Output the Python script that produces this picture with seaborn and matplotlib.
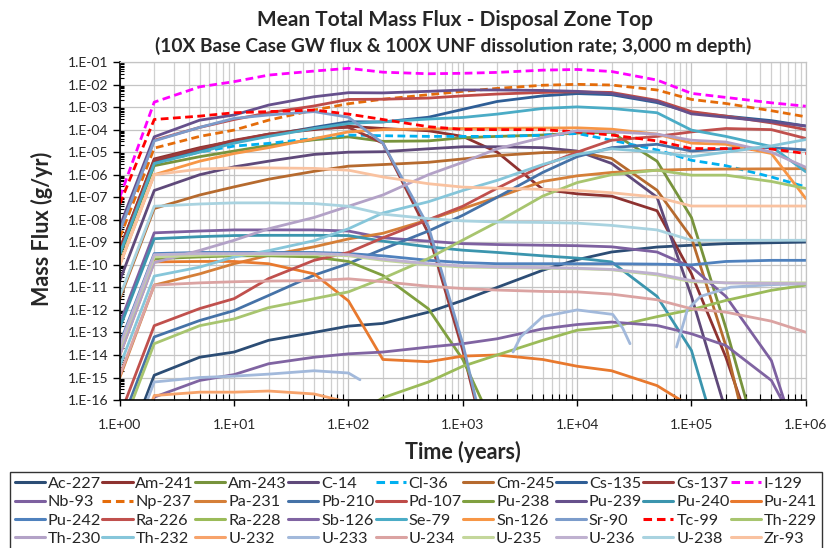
import numpy as np
import pandas as pd
import matplotlib
matplotlib.use("Agg")
import matplotlib.pyplot as plt
import seaborn as sns
from matplotlib.ticker import LogLocator, FixedLocator, FuncFormatter, NullFormatter

# time grid (years)
time = [1, 2, 5, 10, 20, 50, 1e2, 2e2, 5e2, 1e3, 2e3, 5e3, 1e4, 2e4, 5e4, 1e5, 2e5, 5e5, 1e6]

# log10 of mean mass flux (g/yr), None = no value
ac227 = [-18.9, -14.9, -14.1, -13.87, -13.35, -13.0, -12.72, -12.6, -12.1, -11.58, -11.0, -10.24, -9.77, -9.43, -9.21, -9.13, -9.06, -9.02, -8.99]
am241 = [-9.3, -5.3, -4.8, -4.5, -4.2, -4.0, -3.85, -3.95, -4.05, -4.3, -5.0, -6.65, -6.85, -6.95, -7.6, -10.4, -14.1, -20.0, None]
am243 = [-9.6, -5.6, -5.2, -4.95, -4.7, -4.45, -4.32, -4.52, -4.5, -4.36, -4.3, -4.24, -4.15, -4.12, -5.4, -7.9, -12.8, -20.0, None]
c14 = [-10.7, -6.7, -6.0, -5.65, -5.4, -5.1, -5.0, -4.98, -4.85, -4.76, -4.76, -4.8, -4.95, -5.5, -7.0, -11.4, -16.5, None, None]
cl36 = [-9.5, -5.5, -4.99, -4.73, -4.61, -4.39, -4.24, -4.27, -4.3, -4.3, -4.3, -4.25, -4.17, -4.47, -4.9, -5.36, -5.6, -6.1, -6.54]
cm245 = [-11.5, -7.5, -6.9, -6.54, -6.2, -5.85, -5.62, -5.55, -5.45, -5.3, -5.15, -5.02, -4.98, -5.28, -6.69, -8.8, -13.6, -22.0, None]
cs135 = [-9.5, -5.45, -4.9, -4.55, -4.25, -3.9, -3.65, -3.66, -3.45, -3.1, -2.75, -2.5, -2.4, -2.45, -2.8, -3.25, -3.4, -3.6, -3.84]
cs137 = [-9.3, -5.36, -4.85, -4.47, -4.2, -3.95, -3.9, -4.6, -8.6, -13.8, -20.0, None, None, None, None, None, None, None, None]
i129 = [-7.0, -2.78, -2.1, -1.87, -1.58, -1.4, -1.28, -1.45, -1.52, -1.5, -1.46, -1.36, -1.33, -1.42, -1.8, -2.39, -2.57, -2.81, -2.96]
nb93 = [-12.6, -8.58, -8.5, -8.45, -8.45, -8.45, -8.5, -8.8, -8.95, -9.06, -9.1, -9.13, -9.15, -9.2, -9.43, -10.1, -11.4, -14.25, -19.0]
np237 = [-8.8, -4.82, -4.3, -4.02, -3.58, -3.13, -2.85, -2.65, -2.45, -2.3, -2.17, -2.03, -1.99, -2.02, -2.24, -2.66, -2.84, -3.16, -3.43]
pa231 = [-15.0, -10.9, -10.4, -9.95, -9.58, -9.2, -8.85, -8.6, -8.0, -7.5, -7.0, -6.3, -6.05, -5.9, -5.8, -5.76, -5.75, -5.74, -5.73]
pb210 = [-17.2, -13.2, -12.47, -12.03, -11.36, -10.46, -9.94, -9.3, -8.5, -7.8, -7.0, -5.9, -5.2, -4.8, -4.65, -4.95, -4.85, -4.8, -4.9]
pd107 = [-8.5, -4.47, -3.9, -3.55, -3.25, -2.95, -2.66, -2.65, -2.6, -2.5, -2.42, -2.35, -2.32, -2.35, -2.7, -3.2, -3.4, -3.7, -4.0]
pu238 = [-13.7, -9.73, -9.65, -9.6, -9.6, -9.65, -9.85, -10.47, -11.95, -14.2, -17.5, None, None, None, None, None, None, None, None]
pu239 = [-8.3, -4.32, -3.58, -3.35, -2.91, -2.54, -2.36, -2.37, -2.3, -2.24, -2.24, -2.26, -2.3, -2.4, -2.75, -3.3, -3.45, -3.65, -3.84]
pu240 = [-12.8, -8.84, -8.75, -8.7, -8.69, -8.69, -8.7, -8.95, -9.2, -9.35, -9.45, -9.6, -9.7, -9.87, -11.4, -13.8, -19.0, None, None]
pu241 = [-14.0, -9.87, -9.85, -9.85, -9.95, -10.4, -11.6, -14.2, -14.3, -14.05, -14.0, -14.2, -14.5, -14.7, -15.36, -16.3, None, None, None]
pu242 = [-13.5, -9.5, -9.45, -9.45, -9.45, -9.45, -9.5, -9.6, -9.8, -9.9, -9.95, -9.95, -9.95, -9.95, -9.97, -10.0, -9.85, -9.8, -9.8]
ra226 = [-16.7, -12.7, -11.94, -11.5, -10.61, -9.8, -9.45, -8.8, -8.0, -7.4, -6.6, -5.6, -5.0, -4.47, -4.3, -4.1, -3.95, -4.0, -4.39]
ra228 = [None, None, None, None, None, None, -16.8, -15.9, -15.2, -14.5, -14.0, -13.35, -12.9, -12.76, -12.3, -11.99, -11.58, -11.13, -10.9]
sb126 = [-20.0, -15.87, -15.13, -14.87, -14.39, -14.1, -13.95, -13.87, -13.65, -13.5, -13.28, -12.84, -12.65, -12.54, -12.69, -13.06, -13.58, -15.13, -18.0]
se79 = [-9.5, -5.5, -5.0, -4.6, -4.3, -3.95, -3.73, -3.65, -3.53, -3.46, -3.31, -3.06, -2.99, -3.06, -3.25, -4.02, -4.3, -4.75, -5.87]
sn126 = [-10.0, -6.0, -5.4, -5.06, -4.8, -4.4, -4.1, -4.0, -3.97, -3.95, -3.94, -3.93, -3.92, -3.98, -4.2, -4.6, -4.65, -5.06, -7.06]
sr90 = [-8.5, -4.5, -3.9, -3.5, -3.35, -3.2, -3.45, -4.6, -8.3, -13.5, -20.0, None, None, None, None, None, None, None, None]
tc99 = [-7.3, -3.55, -3.4, -3.25, -3.2, -3.13, -3.31, -3.55, -3.87, -3.99, -4.0, -4.0, -4.1, -4.24, -4.5, -4.84, -4.84, -4.86, -5.06]
th229 = [-17.5, -13.5, -12.7, -12.4, -11.9, -11.5, -11.2, -10.6, -9.72, -8.9, -8.1, -6.95, -6.35, -6.0, -5.8, -6.02, -6.02, -6.3, -6.61]
th230 = [-14.0, -9.9, -9.36, -8.91, -8.4, -7.9, -7.4, -6.9, -6.0, -5.45, -4.85, -4.35, -4.05, -4.1, -4.2, -4.47, -4.55, -5.0, -5.67]
th232 = [-14.5, -10.5, -10.1, -9.65, -9.37, -8.93, -8.4, -7.7, -7.2, -6.7, -6.25, -5.55, -5.1, -4.85, -5.0, -5.2, -5.0, -4.72, -4.44]
u232 = [-20.0, -15.8, -15.65, -15.65, -15.6, -15.73, -16.1, -17.0, None, None, None, None, None, None, None, None, None, None, None]
# U-233 has gaps in the source, so it keeps its own times
u233_time = [1, 2, 5, 10, 20, 50, 100, 126, None, 2750, 3200, 5000, 1e4, 2.05e4, 2.5e4, 2.9e4, None, 7.4e4, 9.2e4, 1.2e5, 2.2e5, 5e5, 1e6]
u233 = [-19.2, -15.2, -15.0, -14.94, -14.85, -14.7, -14.8, -15.1, None, -13.87, -13.2, -12.3, -12.0, -12.2, -12.8, -13.5, None, -13.65, -12.0, -11.4, -10.99, -10.88, -10.84]
u234 = [-14.9, -10.9, -10.8, -10.75, -10.72, -10.7, -10.62, -10.75, -10.95, -11.05, -11.12, -11.18, -11.2, -11.3, -11.55, -11.95, -12.1, -12.5, -12.99]
u235 = [-13.7, -9.65, -9.58, -9.55, -9.55, -9.55, -9.6, -9.8, -10.0, -10.1, -10.12, -10.15, -10.17, -10.22, -10.45, -10.75, -10.8, -10.8, -10.8]
u236 = [-13.6, -9.55, -9.5, -9.5, -9.5, -9.5, -9.55, -9.75, -9.95, -10.05, -10.1, -10.12, -10.15, -10.2, -10.4, -10.7, -10.8, -10.82, -10.84]
u238 = [-11.4, -7.4, -7.3, -7.25, -7.25, -7.28, -7.4, -7.75, -7.95, -8.05, -8.1, -8.12, -8.15, -8.25, -8.45, -8.91, -8.91, -8.91, -8.91]
zr93 = [-10.0, -6.0, -5.75, -5.7, -5.7, -5.72, -5.8, -6.1, -6.4, -6.55, -6.6, -6.65, -6.7, -6.8, -7.0, -7.39, -7.39, -7.39, -7.39]

# axis decades
x_decades = [0, 1, 2, 3, 4, 5, 6]
y_decades = list(range(-16, 0))

series = {
    "Ac-227": (time, ac227), "Am-241": (time, am241), "Am-243": (time, am243),
    "C-14": (time, c14), "Cl-36": (time, cl36), "Cm-245": (time, cm245),
    "Cs-135": (time, cs135), "Cs-137": (time, cs137), "I-129": (time, i129),
    "Nb-93": (time, nb93), "Np-237": (time, np237), "Pa-231": (time, pa231),
    "Pb-210": (time, pb210), "Pd-107": (time, pd107), "Pu-238": (time, pu238),
    "Pu-239": (time, pu239), "Pu-240": (time, pu240), "Pu-241": (time, pu241),
    "Pu-242": (time, pu242), "Ra-226": (time, ra226), "Ra-228": (time, ra228),
    "Sb-126": (time, sb126), "Se-79": (time, se79), "Sn-126": (time, sn126),
    "Sr-90": (time, sr90), "Tc-99": (time, tc99), "Th-229": (time, th229),
    "Th-230": (time, th230), "Th-232": (time, th232), "U-232": (time, u232),
    "U-233": (u233_time, u233), "U-234": (time, u234), "U-235": (time, u235),
    "U-236": (time, u236), "U-238": (time, u238), "Zr-93": (time, zr93),
}

colors = {
    "Ac-227": "#2C4D75", "Am-241": "#8E3230", "Am-243": "#77933C", "C-14": "#5F497A",
    "Cl-36": "#00B0F0", "Cm-245": "#B66A2E", "Cs-135": "#2E5E96", "Cs-137": "#9B3B3A",
    "I-129": "#FF00FF", "Nb-93": "#7D60A0", "Np-237": "#E46C0A", "Pa-231": "#D57F38",
    "Pb-210": "#4572A7", "Pd-107": "#BE4B48", "Pu-238": "#80A040", "Pu-239": "#66508C",
    "Pu-240": "#3B95AE", "Pu-241": "#E8792E", "Pu-242": "#4F81BD", "Ra-226": "#C0504D",
    "Ra-228": "#9BBB59", "Sb-126": "#8064A2", "Se-79": "#4BACC6", "Sn-126": "#F79646",
    "Sr-90": "#7C9CCB", "Tc-99": "#FF0000", "Th-229": "#A8C56F", "Th-230": "#B3A2C7",
    "Th-232": "#86C6DA", "U-232": "#F7A36B", "U-233": "#A2B9DB", "U-234": "#DBA3A2",
    "U-235": "#C4D79B", "U-236": "#BFB1D0", "U-238": "#A9D3E0", "Zr-93": "#F9C2A0",
}
dashed = ["Cl-36", "I-129", "Np-237", "Tc-99"]
dashes = {n: ((2.8, 1.6) if n in dashed else "") for n in series}

# long-form table, one "seg" per unbroken piece of a curve
rows = []
seg = 0
for name, (tt, vv) in series.items():
    seg += 1
    for t, v in zip(tt, vv):
        if t is None or v is None:
            seg += 1
            continue
        rows.append({"time": t, "flux": 10.0 ** v, "nuclide": name, "seg": seg})
df = pd.DataFrame(rows)

sns.set_theme(style="white")
plt.rcParams["font.family"] = ["Lato", "DejaVu Sans"]

fig = plt.figure(figsize=(8.32, 5.48), dpi=100)
ax = fig.add_axes([0.144, 0.270, 0.8245, 0.6168])

sns.lineplot(data=df, x="time", y="flux", hue="nuclide", style="nuclide",
             units="seg", estimator=None, sort=False, palette=colors,
             dashes=dashes, linewidth=2.0, ax=ax)

ax.set_xscale("log")
ax.set_yscale("log")
ax.set_xlim(1, 1e6)
ax.set_ylim(1e-16, 1e-1)

fmt = FuncFormatter(lambda v, p: "1.E{:+03d}".format(int(round(np.log10(v)))))
ax.xaxis.set_major_locator(FixedLocator([10.0 ** k for k in x_decades]))
ax.yaxis.set_major_locator(FixedLocator([10.0 ** k for k in y_decades]))
for axis in (ax.xaxis, ax.yaxis):
    axis.set_minor_locator(LogLocator(base=10, subs=np.arange(2, 10), numticks=30))
    axis.set_major_formatter(fmt)
    axis.set_minor_formatter(NullFormatter())

ax.grid(which="major", color="#C4C4C4", linewidth=0.9)
ax.grid(which="minor", axis="x", color="#CFCFCF", linewidth=0.9)
ax.set_axisbelow(True)
ax.tick_params(axis="x", which="major", direction="out", length=4.5, width=1, labelsize=10, pad=9, color="black")
ax.tick_params(axis="x", which="minor", direction="in", length=4, width=0.8, color="black")
ax.tick_params(axis="y", which="major", direction="out", length=5, width=1, labelsize=10, pad=3, color="black")
ax.tick_params(axis="y", which="minor", direction="in", length=3, width=0.8, color="black")
ax.tick_params(left=True, bottom=True)
ax.yaxis.set_tick_params(which="minor", left=True)
ax.xaxis.set_tick_params(which="minor", bottom=True)
for s in ("left", "bottom"):
    ax.spines[s].set_color("black")
    ax.spines[s].set_linewidth(1.2)
for s in ("top", "right"):
    ax.spines[s].set_color("#C4C4C4")
    ax.spines[s].set_linewidth(0.9)

ax.set_xlabel("Time (years)", fontsize=15.5, fontweight="bold")
ax.set_ylabel("Mass Flux (g/yr)", fontsize=15.5, fontweight="bold")
ax.xaxis.set_label_coords(0.5, -0.122)
ax.yaxis.set_label_coords(-0.098, 0.506)

fig.text(0.547, 0.963, "Mean Total Mass Flux - Disposal Zone Top",
         ha="center", va="center", fontsize=15, fontweight="bold")
fig.text(0.545, 0.916, "(10X Base Case GW flux & 100X UNF dissolution rate; 3,000 m depth)",
         ha="center", va="center", fontsize=13.8, fontweight="bold")

# legend: 9 columns filled row by row, in a framed box below the plot
handles, labels = ax.get_legend_handles_labels()
lookup = {l: h for h, l in zip(handles, labels) if l in series}
names = list(series)
nrow, ncol = 4, 9
order = [names[r * ncol + c] for c in range(ncol) for r in range(nrow)]
leg_handles = [lookup[n] for n in order]
for h in leg_handles:
    h.set_linewidth(2.2)
if ax.get_legend() is not None:
    ax.get_legend().remove()
leg = fig.legend(leg_handles, order, ncol=ncol, loc="upper left",
                 bbox_to_anchor=(0.012, 0.0, 0.976, 0.139), bbox_transform=fig.transFigure,
                 mode="expand", fontsize=11.7, frameon=True, fancybox=False,
                 handlelength=1.85, handletextpad=0.18, columnspacing=0.4,
                 labelspacing=0.24, borderpad=0.3, borderaxespad=0)
leg.get_frame().set_edgecolor("black")
leg.get_frame().set_linewidth(1.0)

fig.savefig("out.png", dpi=100)
